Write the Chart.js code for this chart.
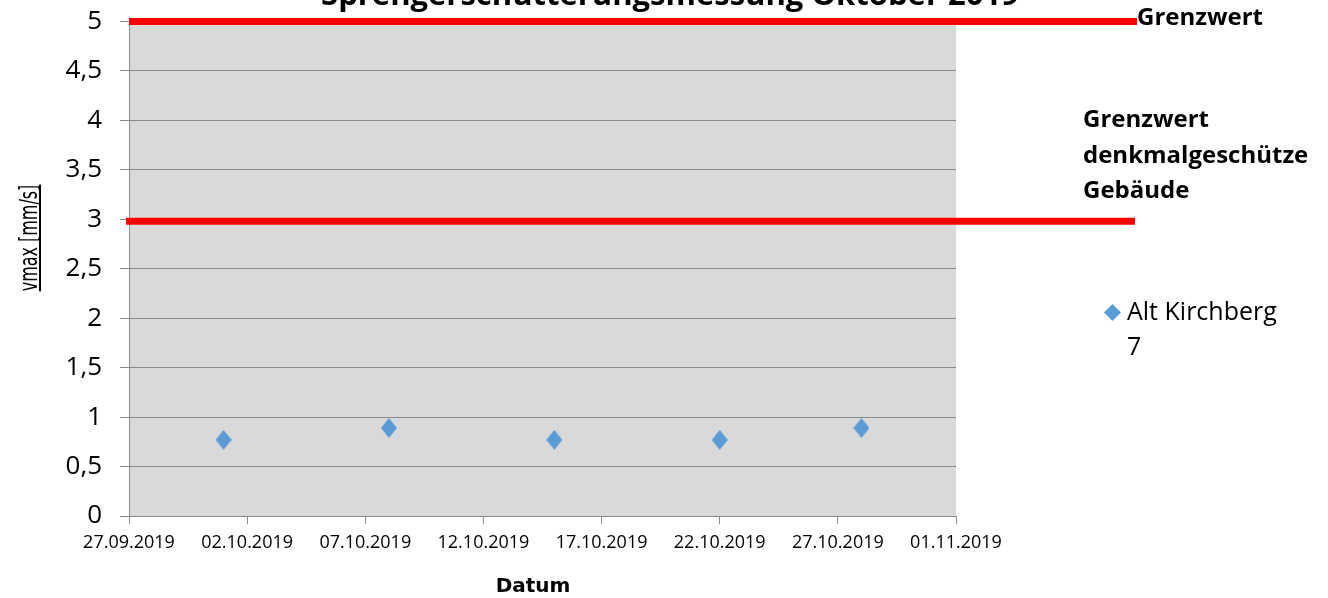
<!DOCTYPE html>
<html>
<head>
<meta charset="utf-8">
<script src="https://cdn.jsdelivr.net/npm/chart.js@4.4.1/dist/chart.umd.min.js"></script>
<style>
html,body{margin:0;padding:0;background:#fff;}
canvas{display:block;}
</style>
</head>
<body>
<canvas id="c" width="1328" height="598"></canvas>
<script>
// ---- data ----
const startDate = '27.09.2019';
const tickLabels = ['27.09.2019','02.10.2019','07.10.2019','12.10.2019','17.10.2019','22.10.2019','27.10.2019','01.11.2019'];
const measureDates = ['01.10.2019','08.10.2019','15.10.2019','22.10.2019','28.10.2019'];
const vmaxValues = [0.77, 0.89, 0.77, 0.77, 0.89];
const seriesName = ['Alt Kirchberg', '7'];
const limitValues = [5, 3];
const limitLabels = [['Grenzwert'], ['Grenzwert', 'denkmalgeschütze', 'Gebäude']];
const chartTitle = 'Sprengerschütterungsmessung Oktober 2019';
const yTitle = 'vmax [mm/s]';
const xTitle = 'Datum';

function dayNum(s){const [d,m,y]=s.split('.').map(Number);return Date.UTC(y,m-1,d)/86400000;}
const day0 = dayNum(startDate);
const points = measureDates.map((d,i)=>({x: dayNum(d)-day0, y: vmaxValues[i]}));
const tickDays = tickLabels.map(d=>dayNum(d)-day0);

const NARROW = '"DejaVu Sans Condensed","Liberation Sans",sans-serif';
const SANS = '"Open Sans","Noto Sans",sans-serif';
const BLUE = '#5b9bd5';
const GRID = '#8a8a8a';

function diamond(w,h){
  const c=document.createElement('canvas');c.width=w;c.height=h;
  const g=c.getContext('2d');g.fillStyle=BLUE;g.beginPath();
  g.moveTo(w/2,0);g.lineTo(w,h/2);g.lineTo(w/2,h);g.lineTo(0,h/2);g.closePath();g.fill();
  return c;
}
const dia = diamond(16,20);
const legDia = diamond(17,17);

const deco = {
  id:'deco',
  beforeDraw(chart){
    const {ctx, chartArea:a} = chart;
    ctx.save();ctx.fillStyle='#d9d9d9';
    ctx.fillRect(a.left,a.top,a.right-a.left,a.bottom-a.top);ctx.restore();
  },
  afterDraw(chart){
    const {ctx, chartArea:a} = chart;
    const ys = chart.scales.y;
    ctx.save();
    // limit lines
    ctx.strokeStyle='#ff0000';ctx.lineWidth=7;
    const ends=[1137,1135];
    limitValues.forEach((v,i)=>{
      const y=ys.getPixelForValue(v)+(i?2:0);
      ctx.beginPath();ctx.moveTo(a.left-(i?3:0),y);ctx.lineTo(ends[i],y);ctx.stroke();
    });
    ctx.fillStyle='#000';ctx.textBaseline='alphabetic';ctx.textAlign='left';
    ctx.font='bold 24px '+SANS;
    ctx.fillText(limitLabels[0][0],1137,25);
    limitLabels[1].forEach((t,i)=>ctx.fillText(t,1083,127+i*35.5));
    // title (cut off)
    ctx.font='bold 31px '+SANS;ctx.textAlign='center';
    ctx.fillText(chartTitle,670,5);
    // x title
    ctx.font='bold 20px "DejaVu Sans",sans-serif';
    ctx.fillText(xTitle,533,592);
    // y title
    ctx.save();ctx.translate(37,238);ctx.rotate(-Math.PI/2);ctx.scale(0.74,1);
    ctx.font='24px '+NARROW;ctx.textAlign='center';
    ctx.fillText(yTitle,0,0);
    const w=ctx.measureText(yTitle).width;
    ctx.fillRect(-w/2,2,w,2);
    ctx.restore();
    // legend
    ctx.drawImage(legDia,1104,304);
    ctx.font='25px '+SANS;ctx.textAlign='left';
    ctx.fillText(seriesName[0],1127,320);
    ctx.fillText(seriesName[1],1127,355);
    ctx.restore();
  }
};

new Chart(document.getElementById('c'),{
  type:'scatter',
  data:{datasets:[{label:seriesName.join(' '),data:points,pointStyle:dia,pointRadius:10,pointHoverRadius:10,backgroundColor:BLUE,borderColor:BLUE}]},
  options:{
    responsive:false,animation:false,
    layout:{padding:{left:0,right:372,top:21.5,bottom:0}},
    plugins:{legend:{display:false},tooltip:{enabled:false},title:{display:false}},
    scales:{
      x:{type:'linear',min:0,max:35,
        afterBuildTicks(s){s.ticks=tickDays.map(v=>({value:v}));},
        afterFit(s){s.height=82;s.paddingLeft=0;s.paddingRight=0;},
        grid:{drawOnChartArea:false,drawTicks:true,tickLength:8,color:GRID},
        border:{color:GRID,width:1},
        ticks:{maxRotation:0,autoSkip:false,padding:8,color:'#000',font:{family:SANS,size:18},
          callback(v){const i=tickDays.indexOf(v);return i>=0?tickLabels[i]:'';}}
      },
      y:{min:0,max:5,
        afterFit(s){s.width=129;s.paddingTop=0;s.paddingBottom=0;},
        grid:{color:GRID,tickLength:9,drawTicks:true},
        border:{color:GRID,width:1},
        ticks:{stepSize:0.5,padding:18,color:'#000',font:{family:SANS,size:26},
          callback(v){return String(v).replace('.',',');}}
      }
    }
  },
  plugins:[deco]
});
</script>
</body>
</html>
